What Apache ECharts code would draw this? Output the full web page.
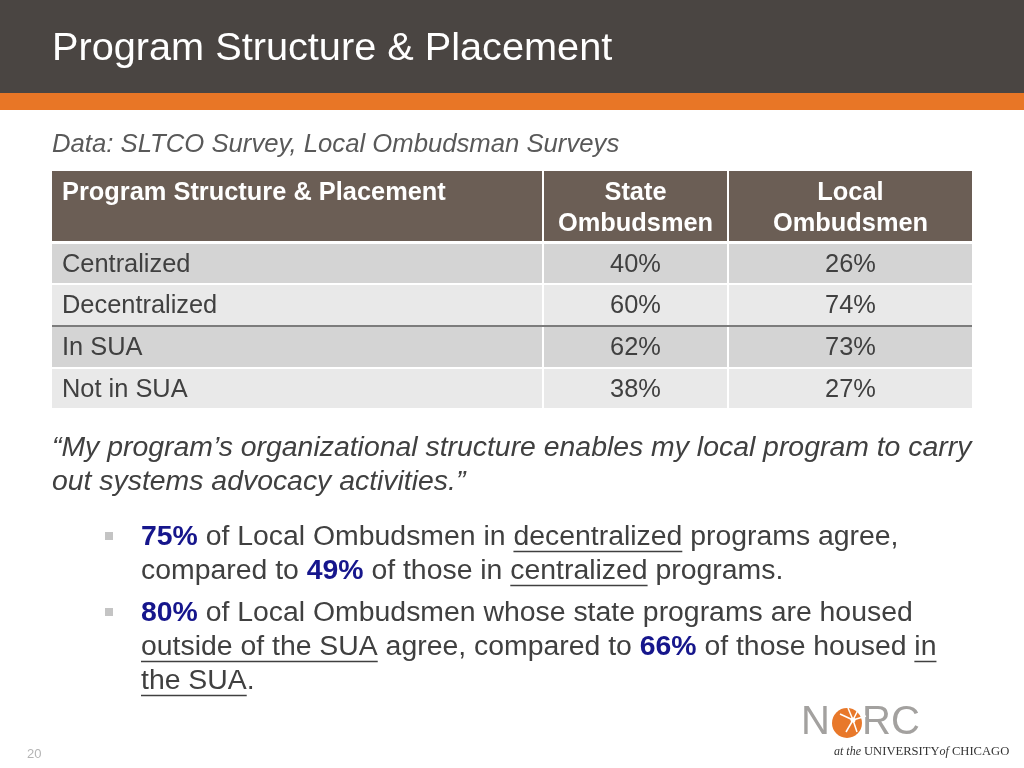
<!DOCTYPE html>
<html><head><meta charset="utf-8">
<script src="https://cdn.jsdelivr.net/npm/echarts@6/dist/echarts.min.js"></script>
<style>html,body{margin:0;padding:0;background:#fff}#c{width:1024px;height:768px}</style>
</head><body><div id="c"></div>
<script>
// ---------- data ----------
const slideTitle = 'Program Structure & Placement';
const sourceNote = 'Data: SLTCO Survey, Local Ombudsman Surveys';
const columnHeaders = [['Program Structure & Placement'], ['State', 'Ombudsmen'], ['Local', 'Ombudsmen']];
const rowLabels = ['Centralized', 'Decentralized', 'In SUA', 'Not in SUA'];
const stateOmbudsmen = [40, 60, 62, 38];
const localOmbudsmen = [26, 74, 73, 27];
const quoteLines = ['\u201CMy program\u2019s organizational structure enables my local program to carry', 'out systems advocacy activities.\u201D'];
// segments: [text, style]  style: 'b' bold blue, 'u' underlined, '' plain
const bullet1 = [
  [['75%', 'b'], [' of Local Ombudsmen in ', ''], ['decentralized', 'u'], [' programs agree,', '']],
  [['compared to ', ''], ['49%', 'b'], [' of those in ', ''], ['centralized', 'u'], [' programs.', '']]
];
const bullet2 = [
  [['80%', 'b'], [' of Local Ombudsmen whose state programs are housed', '']],
  [['outside of the SUA', 'u'], [' agree, compared to ', ''], ['66%', 'b'], [' of those housed ', ''], ['in', 'u']],
  [['the SUA', 'u'], ['.', '']]
];
const pageNumber = '20';

// ---------- layout ----------
const FONT = '"Liberation Sans", Arial, Helvetica, sans-serif';
const COL_EDGES = [[52, 542], [544, 727], [729, 972]];
const ROW_EDGES = [[171, 241], [244, 283], [285, 325], [327, 367], [369, 408]];
const TEXT = '#404040';
const BLUE = '#16168c';
const BODY = 28.4;

function cellText(r, c) {
  if (r === 0) return columnHeaders[c].join('\n');
  if (c === 0) return rowLabels[r - 1];
  if (c === 1) return stateOmbudsmen[r - 1] + '%';
  return localOmbudsmen[r - 1] + '%';
}

const cells = [];
for (let r = 0; r <= rowLabels.length; r++) for (let c = 0; c < 3; c++) cells.push([r, c]);

function renderItem(params, api) {
  const r = api.value(0), c = api.value(1);
  const p0 = api.coord([COL_EDGES[c][0], ROW_EDGES[r][0]]);
  const p1 = api.coord([COL_EDGES[c][1], ROW_EDGES[r][1]]);
  const w = p1[0] - p0[0], h = p1[1] - p0[1];
  const fill = r === 0 ? '#6b5e55' : (r % 2 === 1 ? '#d4d4d4' : '#e9e9e9');
  const children = [{ type: 'rect', shape: { x: p0[0], y: p0[1], width: w, height: h }, style: { fill: fill } }];
  const isHeader = r === 0;
  const left = c === 0;
  const tx = left ? p0[0] + 10 : p0[0] + w / 2;
  const ty = isHeader ? p0[1] + 6 : p0[1] + h / 2 + 1;
  children.push({
    type: 'text',
    style: {
      text: cellText(r, c), x: tx, y: ty,
      fill: isHeader ? '#ffffff' : TEXT,
      font: (isHeader ? 'bold ' : '') + '25.4px ' + FONT,
      lineHeight: 31,
      align: left ? 'left' : 'center', textAlign: left ? 'left' : 'center',
      verticalAlign: isHeader ? 'top' : 'middle', textVerticalAlign: isHeader ? 'top' : 'middle'
    }
  });
  if (r === 2) {
    const xEnd = c < 2 ? api.coord([COL_EDGES[c + 1][0], 0])[0] : p1[0];
    children.push({ type: 'line', shape: { x1: p0[0], y1: p1[1] + 1, x2: xEnd, y2: p1[1] + 1 }, style: { stroke: '#505050', lineWidth: 1.5 } });
  }
  return { type: 'group', children: children };
}

// ---------- text segments (bullets) ----------
const ctx = document.createElement('canvas').getContext('2d');
function measure(t, font) { ctx.font = font; return ctx.measureText(t).width; }

const graphics = [];
function txt(text, x, y, font, fill, align, extra) {
  graphics.push(Object.assign({
    type: 'text', z: 10,
    style: { text: text, x: x, y: y, font: font, fill: fill, align: align || 'left', textAlign: align || 'left', verticalAlign: 'middle', textVerticalAlign: 'middle' }
  }, extra || {}));
}

function layoutLine(segs, x, y) {
  let cx = x;
  segs.forEach(function (s) {
    const font = (s[1] === 'b' ? 'bold ' : '') + BODY + 'px ' + FONT;
    const w = measure(s[0], font);
    txt(s[0], cx, y, font, s[1] === 'b' ? BLUE : TEXT);
    if (s[1] === 'u') {
      graphics.push({ type: 'line', z: 10, shape: { x1: cx, y1: y + 14.5, x2: cx + w, y2: y + 14.5 }, style: { stroke: TEXT, lineWidth: 1.5 } });
    }
    cx += w;
  });
}

// slide chrome
graphics.push({ type: 'rect', z: 1, shape: { x: 0, y: 0, width: 1024, height: 93 }, style: { fill: '#4a4542' } });
graphics.push({ type: 'rect', z: 1, shape: { x: 0, y: 93, width: 1024, height: 17 }, style: { fill: '#e87626' } });
txt(slideTitle, 52, 49, '39.7px ' + FONT, '#ffffff');
txt(sourceNote, 52, 145, 'italic 25.7px ' + FONT, '#595959');
txt(quoteLines[0], 52, 448, 'italic ' + BODY + 'px ' + FONT, TEXT);
txt(quoteLines[1], 52, 482, 'italic ' + BODY + 'px ' + FONT, TEXT);

// bullets
graphics.push({ type: 'rect', z: 10, shape: { x: 105, y: 532, width: 8, height: 8 }, style: { fill: '#c4c4c4' } });
graphics.push({ type: 'rect', z: 10, shape: { x: 105, y: 608, width: 8, height: 8 }, style: { fill: '#c4c4c4' } });
const b1y = [537, 571], b2y = [613, 647, 681];
bullet1.forEach(function (l, i) { layoutLine(l, 141, b1y[i]); });
bullet2.forEach(function (l, i) { layoutLine(l, 141, b2y[i]); });

// page number
txt(pageNumber, 27, 754, '13px ' + FONT, '#b4b4b4');

// NORC logo
txt('N', 801, 723, '40px ' + FONT, '#a3a19f');
graphics.push({ type: 'circle', z: 10, shape: { cx: 847, cy: 723, r: 15 }, style: { fill: '#e8782a' } });
const rays = [[853, 720, 860, 706], [853, 720, 866, 716], [853, 720, 846, 732], [853, 720, 840, 714], [853, 720, 857, 732], [853, 720, 848, 708]];
rays.forEach(function (r) {
  graphics.push({ type: 'line', z: 11, shape: { x1: r[0], y1: r[1], x2: r[2], y2: r[3] }, style: { stroke: '#ffffff', lineWidth: 1.5 } });
});
graphics.push({ type: 'circle', z: 11, shape: { cx: 853, cy: 720, r: 2.5 }, style: { fill: '#ffffff' } });
txt('RC', 862, 723, '40px ' + FONT, '#a3a19f');
graphics.push({
  type: 'text', z: 10,
  style: {
    x: 834, y: 752, verticalAlign: 'middle', textVerticalAlign: 'middle',
    text: '{i|at the }{n|UNIVERSITY}{i|of }{n|CHICAGO}',
    rich: {
      i: { font: 'italic 12px "Liberation Serif", serif', fill: '#333333' },
      n: { font: '12.6px "Liberation Serif", serif', fill: '#333333' }
    }
  }
});

const chart = echarts.init(document.getElementById('c'), null, { renderer: 'canvas' });
chart.setOption({
  backgroundColor: '#ffffff',
  animation: false,
  grid: { left: 0, right: 0, top: 0, bottom: 0 },
  xAxis: { type: 'value', min: 0, max: 1024, show: false },
  yAxis: { type: 'value', min: 0, max: 768, inverse: true, show: false },
  series: [{ type: 'custom', renderItem: renderItem, data: cells, encode: { x: 1, y: 0 }, silent: true, z: 5 }],
  graphic: graphics
});
</script>
</body></html>
